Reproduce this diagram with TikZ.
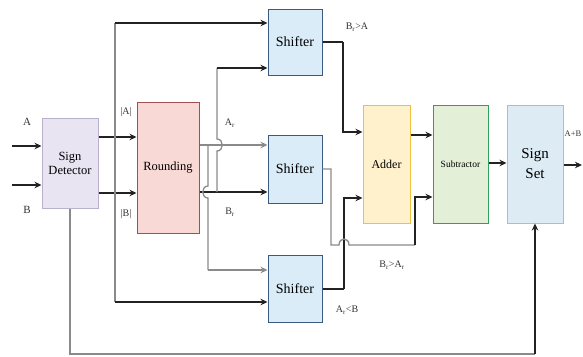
\documentclass[tikz,border=0pt]{standalone}
\usepackage{fontspec}
\setmainfont{Liberation Serif}
\usetikzlibrary{arrows.meta}
\definecolor{sdfill}{HTML}{E8E4F2}
\definecolor{sddraw}{HTML}{B8B0CC}
\definecolor{rfill}{HTML}{F9D9D6}
\definecolor{rdraw}{HTML}{A05050}
\definecolor{shfill}{HTML}{D9ECF8}
\definecolor{shdraw}{HTML}{3A5A80}
\definecolor{afill}{HTML}{FFF1CC}
\definecolor{adraw}{HTML}{F0C040}
\definecolor{subfill}{HTML}{E4EFD8}
\definecolor{subdraw}{HTML}{30A060}
\definecolor{ssfill}{HTML}{DDECF4}
\definecolor{ssdraw}{HTML}{A8C0CC}
\definecolor{wire}{HTML}{222222}
\definecolor{gwire}{HTML}{8A8A8A}
\tikzset{
  blk/.style={rectangle, inner sep=0pt, line width=1pt, align=center},
  arr/.style={line width=1.3pt, draw=wire, -{Stealth[length=7pt,width=6.5pt]}},
  wr/.style={line width=1.3pt, draw=wire},
  gw/.style={line width=1.3pt, draw=gwire},
  garr/.style={line width=1.3pt, draw=gwire, -{Stealth[length=7pt,width=6.5pt]}},
  lbl/.style={font=\fontsize{10}{11}\selectfont, text=black!80, inner sep=0pt}
}
\begin{document}
\begin{tikzpicture}[x=1pt,y=-1pt]
\useasboundingbox (0,0) rectangle (583,356);
% blocks
\node[blk, fill=sdfill, draw=sddraw, minimum width=56pt, minimum height=90pt,
  font=\fontsize{12.5}{14}\selectfont] (sd) at (70,163) {Sign\\Detector};
\node[blk, fill=rfill, draw=rdraw, minimum width=62pt, minimum height=131pt,
  font=\fontsize{12.5}{14}\selectfont] (rnd) at (168,167.5) {Rounding};
\node[blk, fill=shfill, draw=shdraw, minimum width=54pt, minimum height=66pt,
  font=\fontsize{14}{16}\selectfont] (sh1) at (295,42) {Shifter};
\node[blk, fill=shfill, draw=shdraw, minimum width=54pt, minimum height=68pt,
  font=\fontsize{14}{16}\selectfont] (sh2) at (295,169) {Shifter};
\node[blk, fill=shfill, draw=shdraw, minimum width=54pt, minimum height=67pt,
  font=\fontsize{14}{16}\selectfont] (sh3) at (295,288.5) {Shifter};
\node[blk, fill=afill, draw=adraw, minimum width=47pt, minimum height=118pt,
  font=\fontsize{12}{14}\selectfont] (add) at (386.5,164) {Adder};
\node[blk, fill=subfill, draw=subdraw, minimum width=55pt, minimum height=118pt,
  font=\fontsize{9.5}{11}\selectfont] (sub) at (460.5,164) {Subtractor};
\node[blk, fill=ssfill, draw=ssdraw, minimum width=56pt, minimum height=118pt,
  font=\fontsize{15}{20}\selectfont] (ss) at (535,164) {Sign\\Set};
% helper coordinates
\coordinate (ain) at (12,146);
\coordinate (bin) at (12,185);
\coordinate (ya) at (0,137);
\coordinate (yb) at (0,193);
\coordinate (ytop) at (115,23);
\coordinate (ybot) at (115,302);
\coordinate (yar) at (0,145);
\coordinate (ybr) at (0,192);
\coordinate (ja) at (208,145);
\coordinate (jb) at (217,192);
\coordinate (s1in) at (217,68);
\coordinate (s3in) at (208,270);
\coordinate (s1o) at (343,42);
\coordinate (a1) at (343,132);
\coordinate (s3o) at (344,289);
\coordinate (a2) at (344,198);
\coordinate (s2o) at (331,169);
\coordinate (s2d) at (331,245);
\coordinate (s2r) at (415,245);
\coordinate (b2) at (415,197);
\coordinate (yab) at (0,135);
\coordinate (yss) at (0,163);
\coordinate (outp) at (582,165);
\coordinate (fb1) at (70,354);
\coordinate (fb2) at (535,354);
% inputs
\draw[arr] (ain) -- (ain -| sd.west);
\draw[arr] (bin) -- (bin -| sd.west);
% sign detector outputs
\draw[arr] (ya -| sd.east) -- (ya -| rnd.west);
\draw[arr] (yb -| sd.east) -- (yb -| rnd.west);
\draw[gw] (ytop) -- (ybot);
\draw[arr] (ytop) -- (ytop -| sh1.west);
\draw[arr] (ybot) -- (ybot -| sh3.west);
% rounding outputs
\draw[garr] (yar -| rnd.east) -- (yar -| sh2.west);
\draw[arr] (ybr -| rnd.east) -- (ybr -| sh2.west);
% B_r branch up to shifter 1 (hop over A_r)
\draw[gw] (jb) -- (217,151) .. controls (224,151) and (224,139) .. (217,139) -- (s1in);
\draw[arr] (s1in) -- (s1in -| sh1.west);
% A_r branch down to shifter 3 (hop over B_r)
\draw[gw] (ja) -- (208,186) .. controls (201,186) and (201,198) .. (208,198) -- (s3in);
\draw[garr] (s3in) -- (s3in -| sh3.west);
% shifter outputs
\draw[wr] (sh1.east |- s1o) -- (s1o);
\draw[arr] (s1o) -- (a1) -- (a1 -| add.west);
\draw[wr] (sh3.east |- s3o) -- (s3o);
\draw[arr] (s3o) -- (a2) -- (a2 -| add.west);
\draw[gw] (sh2.east |- s2o) -- (s2o) -- (s2d) -- (339,245) .. controls (339,237) and (349,237) .. (349,245) -- (s2r);
\draw[arr] (s2r) -- (b2) -- (b2 -| sub.west);
% adder -> subtractor -> sign set -> out
\draw[arr] (yab -| add.east) -- (yab -| sub.west);
\draw[arr] (yss -| sub.east) -- (yss -| ss.west);
\draw[arr] (outp -| ss.east) -- (outp);
% feedback from sign detector to sign set
\draw[gw] (sd.south) -- (fb1) -- (fb2);
\draw[arr] (fb2) -- (ss.south);
% labels
\node[lbl, font=\fontsize{11}{12}\selectfont] (la) at (27,122) {A};
\node[lbl, font=\fontsize{11}{12}\selectfont] (lb) at (27,210) {B};
\node[lbl] (lma) at (126,112) {|A|};
\node[lbl] (lmb) at (126,214) {|B|};
\node[lbl] (lar) at (230,123) {A\textsubscript{r}};
\node[lbl] (lbr) at (230,212) {B\textsubscript{r}};
\node[lbl] (l1) at (357,27) {B\textsubscript{r}>A};
\node[lbl] (l2) at (392,265) {B\textsubscript{r}>A\textsubscript{r}};
\node[lbl] (l3) at (347,310) {A\textsubscript{r}<B};
\node[lbl, font=\fontsize{8.5}{9}\selectfont] (l4) at (573,134) {A+B};
\end{tikzpicture}
\end{document}
